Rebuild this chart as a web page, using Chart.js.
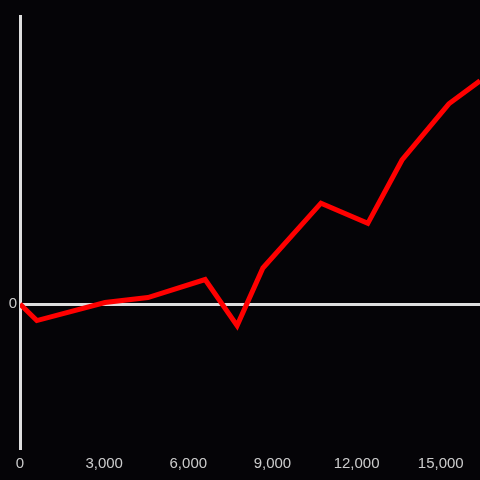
<!DOCTYPE html>
<html lang="en">
<head>
    <meta charset="UTF-8">
    <title>Line Chart</title>
    <script src="https://cdn.jsdelivr.net/npm/chart.js"></script>
    <style>
        html, body { margin: 0; padding: 0; background: #050407; }
        .chart-container { position: relative; width: 480px; height: 480px; }
    </style>
</head>
<body>
    <div class="chart-container"><canvas id="chart" width="480" height="480"></canvas></div>
    <script>
        const xValues = [0, 600, 3030, 4560, 6600, 7740, 8660, 10730, 12400, 13620, 15290, 16400];
        const yValues = [0, -11.5, 1, 4.5, 17, -15, 25, 70, 56, 100, 139, 155];
        const xTicks = [0, 3000, 6000, 9000, 12000, 15000];
        const yTicks = [0];

        const axisColor = '#dedede';
        const labelColor = '#cccccc';

        new Chart(document.getElementById('chart').getContext('2d'), {
            type: 'line',
            data: {
                datasets: [{
                    data: xValues.map((x, i) => ({ x: x, y: yValues[i] })),
                    borderColor: '#ff0000',
                    borderWidth: 5,
                    pointRadius: 0,
                    tension: 0,
                    fill: false
                }]
            },
            options: {
                responsive: false,
                maintainAspectRatio: false,
                animation: false,
                layout: { padding: { top: 16, left: 0, right: 0, bottom: 0 } },
                plugins: { legend: { display: false }, tooltip: { enabled: false } },
                scales: {
                    x: {
                        type: 'linear',
                        min: 0,
                        max: 16400,
                        afterBuildTicks: s => { s.ticks = xTicks.map(v => ({ value: v })); },
                        afterFit: s => { s.height = 32; },
                        grid: { display: false },
                        border: { display: false },
                        ticks: {
                            color: labelColor,
                            font: { family: 'Liberation Sans', size: 15 },
                            padding: -1,
                            maxRotation: 0,
                            callback: v => v.toLocaleString('en-US')
                        }
                    },
                    y: {
                        min: -100,
                        max: 200,
                        afterBuildTicks: s => { s.ticks = yTicks.map(v => ({ value: v })); },
                        afterFit: s => { s.width = 20; },
                        grid: {
                            drawTicks: false,
                            color: ctx => ctx.tick && ctx.tick.value === 0 ? axisColor : 'transparent',
                            lineWidth: 3
                        },
                        border: { display: true, color: axisColor, width: 3 },
                        ticks: {
                            color: labelColor,
                            font: { family: 'Liberation Sans', size: 15 },
                            padding: 3
                        }
                    }
                }
            }
        });
    </script>
</body>
</html>
